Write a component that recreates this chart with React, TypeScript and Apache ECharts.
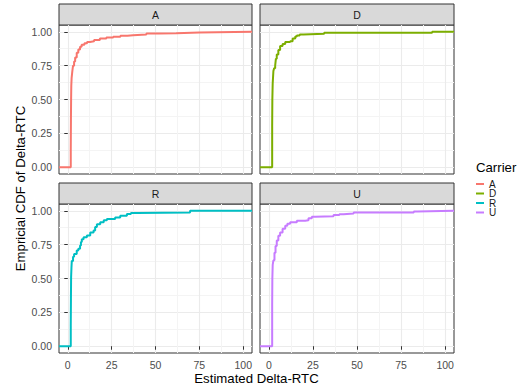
import React, { useEffect, useRef } from "react";
import * as echarts from "echarts";

const carriers = ["A", "D", "R", "U"];
const colors = ["#F8766D", "#7CAE00", "#00BFC4", "#C77CFF"];

// ECDF step points [x, F(x)]
const ecdfA: [number, number][] = [
  [1.7, 0.12], [1.8, 0.35], [1.9, 0.5], [2.0, 0.6], [2.2, 0.66], [2.6, 0.71], [3.0, 0.75],
  [3.6, 0.78], [4.2, 0.81], [5.1, 0.845], [6.0, 0.87], [7.0, 0.89], [7.9, 0.905], [9.5, 0.915],
  [11, 0.925], [12.6, 0.93], [15, 0.94], [18.3, 0.95], [22, 0.957], [25.9, 0.963], [30, 0.97],
  [34, 0.975], [37.2, 0.98], [44.8, 0.988], [52, 0.99], [61.8, 0.995], [75, 1.0],
];
const ecdfD: [number, number][] = [
  [1.9, 0.3], [2.0, 0.5], [2.2, 0.62], [2.6, 0.71], [3.0, 0.73], [3.6, 0.75], [4.0, 0.8],
  [4.5, 0.833], [5.4, 0.865], [6.4, 0.895], [7.8, 0.91], [9.3, 0.924], [12.1, 0.93], [13.5, 0.95],
  [15.0, 0.965], [15.9, 0.973], [17.5, 0.98], [19.7, 0.985], [31.4, 0.993], [92.6, 1.0],
];
const ecdfR: [number, number][] = [
  [1.7, 0.15], [1.8, 0.35], [1.9, 0.51], [2.1, 0.58], [2.3, 0.63], [3.0, 0.66], [3.6, 0.68],
  [5.1, 0.707], [6.0, 0.72], [7.0, 0.744], [7.5, 0.77], [8.0, 0.79], [9.0, 0.805], [10.9, 0.817],
  [12.8, 0.84], [14.7, 0.854], [15.6, 0.88], [16.6, 0.9], [18.5, 0.915], [20.5, 0.93], [22.3, 0.94],
  [27, 0.95], [29.9, 0.963], [33.7, 0.976], [36, 0.984], [39.4, 0.988], [69.7, 1.0],
];
const ecdfU: [number, number][] = [
  [1.9, 0.3], [2.0, 0.5], [2.2, 0.6], [2.6, 0.634], [3.2, 0.69], [3.8, 0.74], [4.5, 0.78],
  [5.4, 0.815], [6.4, 0.84], [7.8, 0.867], [9.3, 0.89], [10.5, 0.905], [12.1, 0.915], [15.9, 0.927],
  [20.6, 0.93], [22.5, 0.945], [24.4, 0.956], [26.3, 0.96], [36.7, 0.968], [40, 0.975], [42.4, 0.98],
  [48.1, 0.988], [82.2, 0.995], [84.1, 1.0],
];
const ecdfs = [ecdfA, ecdfD, ecdfR, ecdfU];

const xMajor = [0, 25, 50, 75, 100];
const xMinor = [12.5, 37.5, 62.5, 87.5];
const yMajor = [0, 0.25, 0.5, 0.75, 1];
const yMinor = [0.125, 0.375, 0.625, 0.875];
const xRange = [-5, 105];
const yRange = [-0.05, 1.05];

const FONT = "'Liberation Sans', Arial, Helvetica, sans-serif";

const panels = [
  { left: 59, top: 25, width: 193, height: 149 },
  { left: 260, top: 25, width: 194, height: 149 },
  { left: 59, top: 204, width: 193, height: 149 },
  { left: 260, top: 204, width: 194, height: 149 },
];
const STRIP_H = 21;

export default function App() {
  const ref = useRef<HTMLDivElement>(null);
  useEffect(() => {
    if (!ref.current) return;
    const chart = echarts.init(ref.current, null, { renderer: "svg" });

    const grid = panels.map((p) => ({
      left: p.left,
      top: p.top,
      width: p.width,
      height: p.height,
      show: true,
      backgroundColor: "#FFFFFF",
      borderColor: "#333333",
      borderWidth: 1,
      containLabel: false,
    }));

    const xAxis: any[] = [];
    const yAxis: any[] = [];
    panels.forEach((_, i) => {
      const bottom = i >= 2;
      const leftCol = i % 2 === 0;
      xAxis.push({
        type: "value",
        gridIndex: i,
        min: xRange[0],
        max: xRange[1],
        position: "bottom",
        axisLine: { show: false },
        axisTick: { show: bottom, customValues: xMajor, length: 3.5, lineStyle: { color: "#333333" } },
        axisLabel: { show: bottom, customValues: xMajor, color: "#4D4D4D", fontSize: 10.5, margin: 6, fontFamily: FONT },
        splitLine: { show: true, lineStyle: { color: "#EBEBEB", width: 1.1 } },
      });
      yAxis.push({
        type: "value",
        gridIndex: i,
        min: yRange[0],
        max: yRange[1],
        position: "left",
        axisLine: { show: false },
        axisTick: { show: leftCol, customValues: yMajor, length: 3.5, lineStyle: { color: "#333333" } },
        axisLabel: {
          show: leftCol,
          customValues: yMajor,
          color: "#4D4D4D",
          fontSize: 10.5,
          margin: 7,
          fontFamily: FONT,
          formatter: (v: number) => v.toFixed(2),
        },
        splitLine: { show: true, lineStyle: { color: "#EBEBEB", width: 1.1 } },
      });
    });
    panels.forEach((_, i) => {
      xAxis.push({
        type: "value",
        gridIndex: i,
        min: xRange[0],
        max: xRange[1],
        position: "bottom",
        axisLine: { show: false },
        axisTick: { show: false, customValues: xMinor },
        axisLabel: { show: false, customValues: xMinor },
        splitLine: { show: true, lineStyle: { color: "#F4F4F4", width: 1 } },
      });
      yAxis.push({
        type: "value",
        gridIndex: i,
        min: yRange[0],
        max: yRange[1],
        position: "left",
        axisLine: { show: false },
        axisTick: { show: false, customValues: yMinor },
        axisLabel: { show: false, customValues: yMinor },
        splitLine: { show: true, lineStyle: { color: "#F4F4F4", width: 1 } },
      });
    });

    const series = carriers.map((c, i) => ({
      name: c,
      type: "line",
      step: "end",
      xAxisIndex: i,
      yAxisIndex: i,
      showSymbol: false,
      symbol: "none",
      clip: true,
      z: 5,
      lineStyle: { color: colors[i], width: 2 },
      itemStyle: { color: colors[i] },
      data: [[xRange[0], 0], ...ecdfs[i], [xRange[1], 1]],
    }));

    const graphics: any[] = [];
    panels.forEach((p, i) => {
      graphics.push({
        type: "rect",
        shape: { x: p.left, y: p.top - STRIP_H, width: p.width, height: STRIP_H },
        style: { fill: "#D9D9D9", stroke: "#333333", lineWidth: 1 },
      });
      graphics.push({
        type: "text",
        x: p.left + p.width / 2,
        y: p.top - STRIP_H / 2,
        style: {
          text: carriers[i],
          fill: "#1A1A1A",
          fontSize: 10.5,
          fontFamily: FONT,
          align: "center",
          verticalAlign: "middle",
        },
      });
    });
    graphics.push({
      type: "text",
      x: (panels[0].left + panels[1].left + panels[1].width) / 2,
      y: 378,
      style: {
        text: "Estimated Delta-RTC",
        fill: "#000000",
        fontSize: 13.2,
        fontFamily: FONT,
        align: "center",
        verticalAlign: "middle",
      },
    });
    graphics.push({
      type: "text",
      x: 20,
      y: (panels[0].top - STRIP_H + panels[2].top + panels[2].height) / 2 + 10,
      rotation: Math.PI / 2,
      style: {
        text: "Empricial CDF of Delta-RTC",
        fill: "#000000",
        fontSize: 13.2,
        fontFamily: FONT,
        align: "center",
        verticalAlign: "middle",
      },
    });
    graphics.push({
      type: "text",
      x: 476,
      y: 167,
      style: {
        text: "Carrier",
        fill: "#000000",
        fontSize: 13.2,
        fontFamily: FONT,
        align: "left",
        verticalAlign: "middle",
      },
    });

    chart.setOption({
      animation: false,
      backgroundColor: "#FFFFFF",
      textStyle: { fontFamily: FONT },
      grid,
      xAxis,
      yAxis,
      series,
      legend: {
        orient: "vertical",
        left: 476,
        top: 179,
        padding: 0,
        itemWidth: 8,
        itemHeight: 2,
        itemGap: -0.5,
        icon: "rect",
        selectedMode: false,
        data: carriers,
        textStyle: { fontSize: 10, lineHeight: 8, color: "#1A1A1A", fontFamily: FONT, padding: 0 },
      },
      graphic: graphics,
    });
    return () => chart.dispose();
  }, []);
  return (
    <div
      ref={ref}
      style={{ position: "fixed", left: 0, top: 0, width: 527, height: 389, background: "#fff" }}
    />
  );
}
